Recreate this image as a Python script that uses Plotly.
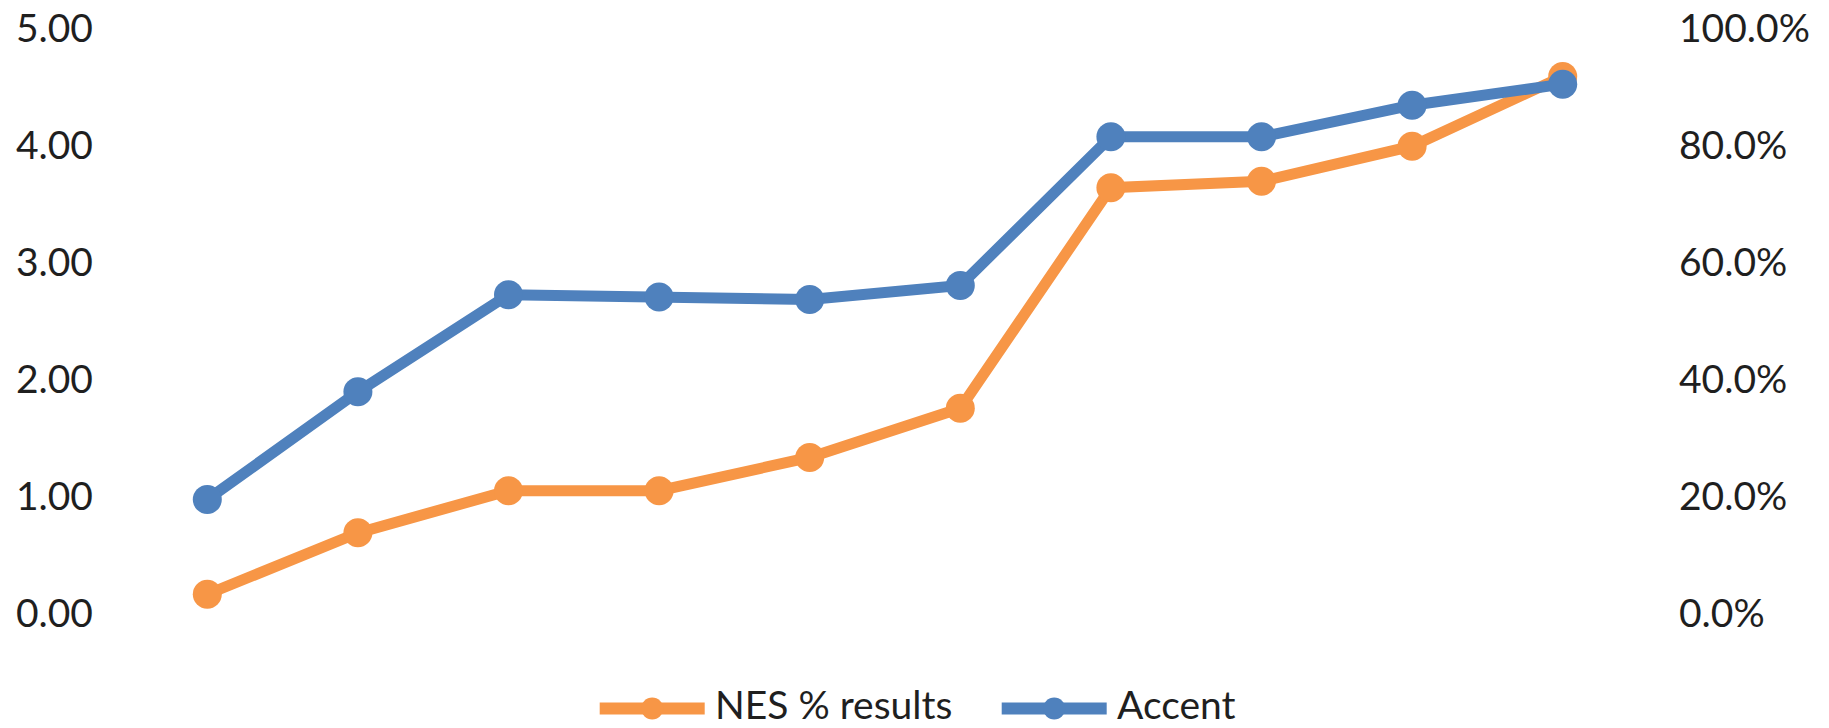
import plotly.graph_objects as go

# ---- data ----
categories = ["1", "2", "3", "4", "5", "6", "7", "8", "9", "10"]
nes_pct = [3.2, 13.7, 20.9, 20.9, 26.6, 35.0, 72.7, 73.8, 79.8, 91.7]   # right axis, %
accent = [0.97, 1.89, 2.72, 2.70, 2.68, 2.80, 4.07, 4.07, 4.34, 4.52]   # left axis
left_ticks = [0, 1, 2, 3, 4, 5]
right_ticks = [0, 20, 40, 60, 80, 100]
left_labels = [f"{v:.2f}" for v in left_ticks]
right_labels = [f"{v:.1f}%" for v in right_ticks]

ORANGE = "#F79646"
BLUE = "#4F81BD"
TEXT = "#1f1f1f"
FONT = "Lato, Carlito, Calibri, sans-serif"
FS = 39

W, H = 1829, 728
L, R, T, B = 132.3, 1638.3, 27.5, 613.3


def px(x):
    return (x - L) / (R - L)


def py(y):
    return (B - y) / (B - T)


fig = go.Figure()
# orange on the base (right, percent) axis so the blue series is drawn on top
fig.add_trace(go.Scatter(
    x=categories, y=nes_pct, name="NES % results", yaxis="y",
    mode="lines+markers", line=dict(color=ORANGE, width=11),
    marker=dict(color=ORANGE, size=29), showlegend=False))
fig.add_trace(go.Scatter(
    x=categories, y=accent, name="Accent", yaxis="y2",
    mode="lines+markers", line=dict(color=BLUE, width=11),
    marker=dict(color=BLUE, size=29), showlegend=False))

fig.update_layout(
    width=W, height=H,
    margin=dict(l=L, r=W - R, t=T, b=H - B, pad=0, autoexpand=False),
    paper_bgcolor="white", plot_bgcolor="white",
    font=dict(family=FONT, size=FS, color=TEXT),
    xaxis=dict(type="category", range=[-0.5, len(categories) - 0.5],
               showticklabels=False, showgrid=False, zeroline=False,
               showline=False, ticks="", automargin=False),
    yaxis=dict(range=[0, 100], tickvals=right_ticks, ticktext=right_labels,
               side="right",
               showgrid=False, zeroline=False, showline=False, ticks="",
               automargin=False,
               ticklabelstandoff=40, tickfont=dict(size=FS, color=TEXT)),
    yaxis2=dict(range=[0, 5], tickvals=left_ticks, ticktext=left_labels,
                overlaying="y", side="left",
                showgrid=False, zeroline=False, showline=False, ticks="",
                automargin=False,
                ticklabelstandoff=38, tickfont=dict(size=FS, color=TEXT)),
)

# ---- custom legend (Excel style: long line with marker in the middle) ----
legend_items = [
    ("NES % results", ORANGE, 600, 705, 713),
    ("Accent", BLUE, 1002, 1107, 1115),
]
ly = 709
for label, color, x0, x1, tx in legend_items:
    fig.add_shape(type="line", xref="paper", yref="paper",
                  x0=px(x0), x1=px(x1), y0=py(ly), y1=py(ly),
                  line=dict(color=color, width=12))
    fig.add_shape(type="circle", xref="paper", yref="paper",
                  xsizemode="pixel", ysizemode="pixel",
                  xanchor=px((x0 + x1) / 2), yanchor=py(ly),
                  x0=-11, x1=11, y0=-11, y1=11,
                  line=dict(width=0), fillcolor=color)
    fig.add_annotation(text=label, xref="paper", yref="paper",
                       x=px(tx), y=py(704), xanchor="left", yanchor="middle",
                       showarrow=False, font=dict(family=FONT, size=FS, color=TEXT))

fig.write_html("out.html")
